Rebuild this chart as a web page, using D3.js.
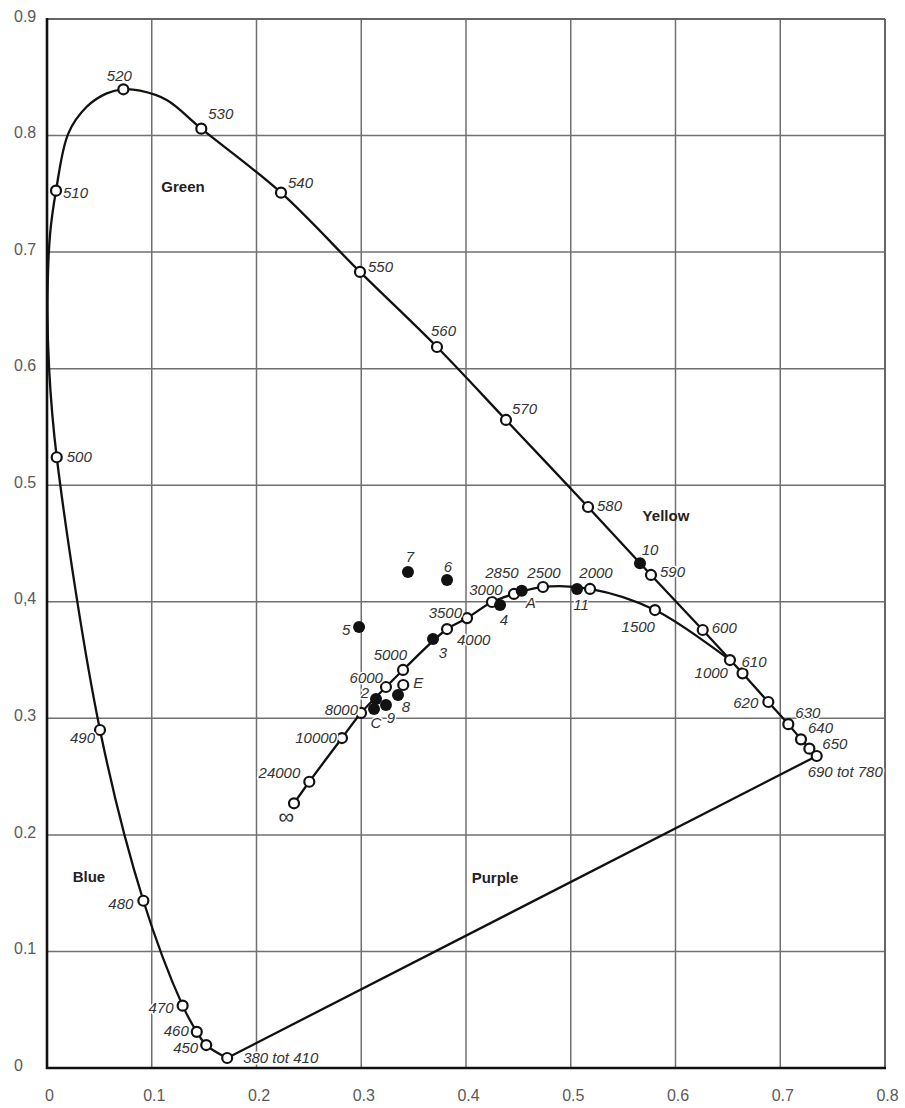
<!DOCTYPE html>
<html>
<head>
<meta charset="utf-8">
<script src="https://cdn.jsdelivr.net/npm/d3@7"></script>
<style>
  html, body { margin: 0; padding: 0; background: #fff; }
  svg { display: block; }
  .tick-label { font-family: "Liberation Sans Narrow", "Liberation Sans", Arial, sans-serif; font-size: 16px; fill: #5a5a5a; }
  .pt-label { font-family: "Liberation Sans Narrow", "Liberation Sans", Arial, sans-serif; font-style: italic; font-size: 15px; fill: #333;
              paint-order: stroke; stroke: #fff; stroke-width: 3px; stroke-linejoin: round; }
  .region { font-family: "Liberation Sans", Arial, sans-serif; font-weight: bold; font-size: 15px; fill: #222; }
</style>
</head>
<body>
<script>
// CIE 1931 chromaticity diagram (x, y)

// Axis ticks
const xTicks = [0, 0.1, 0.2, 0.3, 0.4, 0.5, 0.6, 0.7, 0.8];
const xTickLabels = ["0", "0.1", "0.2", "0.3", "0.4", "0.5", "0.6", "0.7", "0.8"];
const yTicks = [0, 0.1, 0.2, 0.3, 0.4, 0.5, 0.6, 0.7, 0.8, 0.9];
const yTickLabels = ["0", "0.1", "0.2", "0.3", "0,4", "0.5", "0.6", "0.7", "0.8", "0.9"];

// Spectral locus, in wavelength order; empty label = shape point without marker
const locusX = [0.172, 0.152, 0.143, 0.1295, 0.092, 0.0506, 0.0093, 0.002, 0.0005, 0.003, 0.0086,
                0.0204, 0.0379, 0.057, 0.0729, 0.0888, 0.1143, 0.1473, 0.2234, 0.2988, 0.3723,
                0.4382, 0.5165, 0.5766, 0.626, 0.664, 0.6886, 0.7077, 0.7198, 0.7278, 0.7348];
const locusY = [0.0086, 0.0197, 0.031, 0.0535, 0.1435, 0.290, 0.524, 0.60, 0.66, 0.716, 0.7527,
                0.8019, 0.8247, 0.8362, 0.8397, 0.8385, 0.8305, 0.8059, 0.751, 0.683, 0.6186,
                0.556, 0.4813, 0.423, 0.3758, 0.3386, 0.314, 0.295, 0.282, 0.274, 0.2677];
const locusLabel = ["380 tot 410", "450", "460", "470", "480", "490", "500", "", "", "", "510",
                    "", "", "", "520", "", "", "530", "540", "550", "560",
                    "570", "580", "590", "600", "610", "620", "630", "640", "650", "690 tot 780"];

// Planckian (black body) locus, colour temperature in K
const planckX = [0.2358, 0.2504, 0.2816, 0.2998, 0.3236, 0.3399, 0.3819, 0.401, 0.4248, 0.4458, 0.4735, 0.5184, 0.5804, 0.652];
const planckY = [0.2271, 0.2456, 0.2831, 0.3046, 0.3269, 0.3415, 0.3766, 0.386, 0.3998, 0.4067, 0.4127, 0.411, 0.3929, 0.350];
const planckLabel = ["\u221E", "24000", "10000", "8000", "6000", "5000", "4000", "3500", "3000", "2850", "2500", "2000", "1500", "1000"];

// Light sources (filled) and equal-energy point E (open)
const sourceX = [0.3446, 0.3819, 0.2979, 0.3685, 0.4325, 0.4532, 0.506, 0.5661, 0.3351, 0.3141, 0.3236, 0.3122];
const sourceY = [0.4255, 0.4187, 0.3783, 0.368, 0.3972, 0.4095, 0.411, 0.433, 0.32, 0.3166, 0.3114, 0.308];
const sourceLabel = ["7", "6", "5", "3", "4", "A", "11", "10", "8", "2", "9", "C"];
const equalEnergy = { x: 0.3401, y: 0.3286, label: "E" };

// Colour region names
const regionName = ["Green", "Yellow", "Blue", "Purple"];
const regionX = [0.1298, 0.5909, 0.040, 0.4277];
const regionY = [0.7558, 0.4735, 0.1639, 0.163];

// Label placement around markers: [dx, dy, anchor]
const place = {
  "380 tot 410": [16, 5, "start"], "450": [-8, 8, "end"], "460": [-8, 4, "end"], "470": [-9, 7, "end"],
  "480": [-10, 8, "end"], "490": [-5, 13, "end"], "500": [10, 5, "start"], "510": [7, 7, "start"],
  "520": [-4, -8, "middle"], "530": [7, -10, "start"], "540": [7, -5, "start"], "550": [8, 0, "start"],
  "560": [-6, -11, "start"], "570": [6, -6, "start"], "580": [9, 4, "start"], "590": [9, 2, "start"],
  "600": [9, 3, "start"], "610": [-1, -6, "start"], "620": [-10, 6, "end"], "630": [7, -6, "start"],
  "640": [7, -6, "start"], "650": [13, 0, "start"], "690 tot 780": [-9, 21, "start"],
  "\u221E": [-8, 21, "middle"], "24000": [-9, -4, "end"], "10000": [-5, 5, "end"], "8000": [-3, 2, "end"],
  "6000": [-3, -4, "end"], "5000": [4, -10, "end"], "4000": [10, 16, "start"], "3500": [-5, 0, "end"],
  "3000": [-6, -7, "middle"], "2850": [-12, -16, "middle"], "2500": [1, -9, "middle"], "2000": [6, -11, "middle"],
  "1500": [0, 22, "end"], "1000": [-2, 18, "end"],
  "7": [2, -10, "middle"], "6": [1, -8, "middle"], "5": [-13, 8, "middle"], "3": [10, 19, "middle"],
  "4": [4, 20, "middle"], "A": [9, 17, "middle"], "11": [4, 21, "middle"], "10": [10, -8, "middle"],
  "8": [8, 17, "middle"], "2": [-11, -1, "middle"], "9": [5, 18, "middle"], "C": [2, 19, "middle"],
  "E": [10, 3, "start"]
};

const W = 905, H = 1108;
const x = d3.scaleLinear().domain([0, 0.8]).range([47, 885]);
const y = d3.scaleLinear().domain([0, 0.9]).range([1068, 19]);

const svg = d3.select("body").append("svg").attr("width", W).attr("height", H);

// Grid
const grid = svg.append("g");
grid.selectAll(".vx").data(xTicks.slice(1, -1)).join("line")
  .attr("x1", d => x(d)).attr("x2", d => x(d)).attr("y1", y(0.9)).attr("y2", y(0))
  .attr("stroke", "#707070").attr("stroke-width", 1.5);
grid.selectAll(".hy").data(yTicks.slice(1, -1)).join("line")
  .attr("x1", x(0)).attr("x2", x(0.8)).attr("y1", d => y(d)).attr("y2", d => y(d))
  .attr("stroke", "#707070").attr("stroke-width", 1.5);

// Frame: top and right grey, left and bottom axes black
svg.append("line").attr("x1", x(0)).attr("x2", x(0.8)).attr("y1", y(0.9)).attr("y2", y(0.9))
  .attr("stroke", "#666").attr("stroke-width", 2);
svg.append("line").attr("x1", x(0.8)).attr("x2", x(0.8)).attr("y1", y(0.9)).attr("y2", y(0))
  .attr("stroke", "#666").attr("stroke-width", 2);

// Axes with D3 axis generators (labels only, lines drawn separately)
const xAxis = d3.axisBottom(x).tickValues(xTicks).tickSize(0).tickPadding(0)
  .tickFormat((d, i) => xTickLabels[i]);
const gx = svg.append("g").attr("transform", `translate(0,${y(0)})`).call(xAxis);
gx.select(".domain").remove();
gx.selectAll("text").attr("class", "tick-label").attr("dy", null).attr("y", 33).attr("dx", 2);

const yAxis = d3.axisLeft(y).tickValues(yTicks).tickSize(0).tickPadding(0)
  .tickFormat((d, i) => yTickLabels[i]);
const gy = svg.append("g").attr("transform", `translate(${x(0)},0)`).call(yAxis);
gy.select(".domain").remove();
gy.selectAll("text").attr("class", "tick-label").attr("text-anchor", "start")
  .attr("x", -33).attr("dy", "0.32em").attr("y", -3);

svg.append("line").attr("x1", x(0)).attr("x2", x(0)).attr("y1", y(0.9) - 1).attr("y2", y(0) + 1)
  .attr("stroke", "#111").attr("stroke-width", 2.6);
svg.append("line").attr("x1", x(0) - 1).attr("x2", x(0.8) + 1).attr("y1", y(0)).attr("y2", y(0))
  .attr("stroke", "#111").attr("stroke-width", 2.6);

// Spectral locus + line of purples
const locus = locusX.map((v, i) => ({ x: v, y: locusY[i], label: locusLabel[i] }));
const curveLine = d3.line().x(d => x(d.x)).y(d => y(d.y)).curve(d3.curveCatmullRom.alpha(0.5));
svg.append("path").datum(locus).attr("d", curveLine)
  .attr("fill", "none").attr("stroke", "#111").attr("stroke-width", 2.3);
svg.append("path").datum([locus[locus.length - 1], locus[0]])
  .attr("d", d3.line().x(d => x(d.x)).y(d => y(d.y)))
  .attr("fill", "none").attr("stroke", "#111").attr("stroke-width", 2.3);

// Planckian locus
const planck = planckX.map((v, i) => ({ x: v, y: planckY[i], label: planckLabel[i] }));
svg.append("path").datum(planck).attr("d", curveLine)
  .attr("fill", "none").attr("stroke", "#111").attr("stroke-width", 2.3);

// Open markers
const openPts = locus.filter(d => d.label).concat(planck, [equalEnergy]);
svg.append("g").selectAll("circle").data(openPts).join("circle")
  .attr("cx", d => x(d.x)).attr("cy", d => y(d.y)).attr("r", 5)
  .attr("fill", "#fff").attr("stroke", "#111").attr("stroke-width", 2.2);

// Filled source markers
const sources = sourceX.map((v, i) => ({ x: v, y: sourceY[i], label: sourceLabel[i] }));
svg.append("g").selectAll("circle").data(sources).join("circle")
  .attr("cx", d => x(d.x)).attr("cy", d => y(d.y)).attr("r", 6)
  .attr("fill", "#111");

// Point labels
const labelled = openPts.concat(sources);
svg.append("g").selectAll("text").data(labelled).join("text")
  .attr("class", "pt-label")
  .attr("x", d => x(d.x) + place[d.label][0])
  .attr("y", d => y(d.y) + place[d.label][1])
  .attr("text-anchor", d => place[d.label][2])
  .style("font-size", d => d.label === "\u221E" ? "22px" : null)
  .text(d => d.label);

// Region names
svg.append("g").selectAll("text").data(regionName).join("text")
  .attr("class", "region")
  .attr("x", (d, i) => x(regionX[i])).attr("y", (d, i) => y(regionY[i]))
  .attr("text-anchor", "middle").attr("dy", "0.35em")
  .text(d => d);
</script>
</body>
</html>
